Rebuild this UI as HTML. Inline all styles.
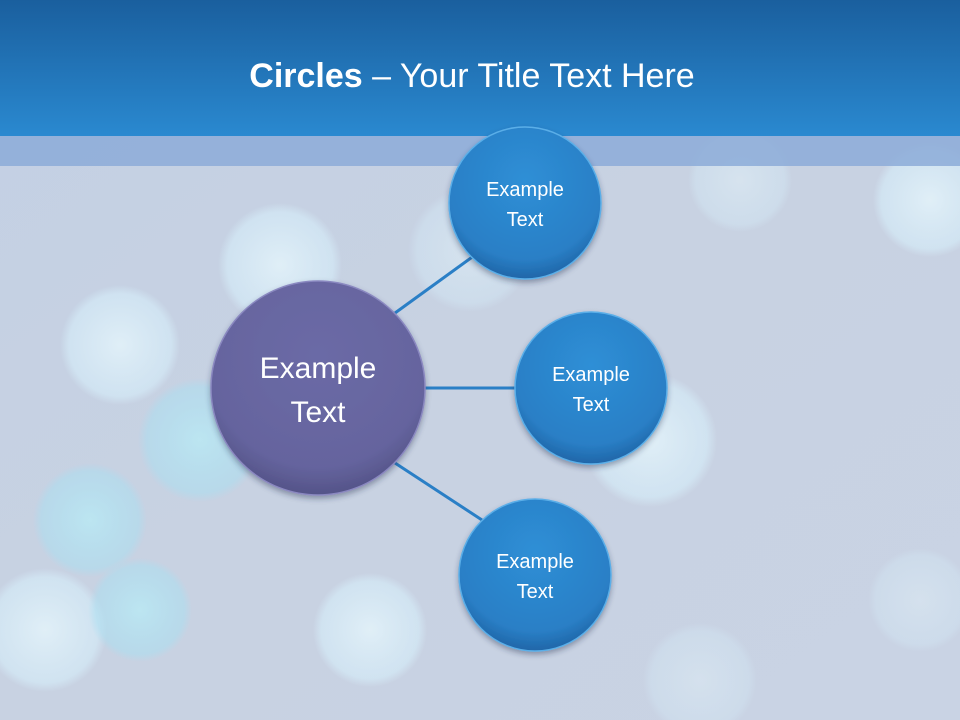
<!DOCTYPE html>
<html><head><meta charset="utf-8"><style>
html,body{margin:0;padding:0;width:960px;height:720px;overflow:hidden;}
svg{display:block}
</style></head><body>
<svg width="960" height="720" viewBox="0 0 960 720" xmlns="http://www.w3.org/2000/svg">
<defs>
<linearGradient id="hdr" x1="0" y1="0" x2="0" y2="1"><stop offset="0" stop-color="#1a5f9e"/><stop offset="1" stop-color="#2a89d0"/></linearGradient>
<linearGradient id="bg" x1="0" y1="0" x2="1" y2="1"><stop offset="0" stop-color="#c3d0e4"/><stop offset="0.5" stop-color="#c8d2e2"/><stop offset="1" stop-color="#c9d3e4"/></linearGradient>
<radialGradient id="bk" cx="0.5" cy="0.5" r="0.5"><stop offset="0" stop-color="#e6f6fc" stop-opacity="0.8"/><stop offset="0.85" stop-color="#d6eefa" stop-opacity="0.6"/><stop offset="1" stop-color="#d6eefa" stop-opacity="0"/></radialGradient>
<radialGradient id="bk2" cx="0.5" cy="0.5" r="0.5"><stop offset="0" stop-color="#b8ecf6" stop-opacity="0.75"/><stop offset="0.85" stop-color="#a8e0f2" stop-opacity="0.5"/><stop offset="1" stop-color="#a8e0f2" stop-opacity="0"/></radialGradient>
<radialGradient id="blue" cx="0.5" cy="0.35" r="0.65"><stop offset="0" stop-color="#2e8fd6"/><stop offset="0.8" stop-color="#2a7fc6"/><stop offset="1" stop-color="#1f66a8"/></radialGradient>
<radialGradient id="purple" cx="0.5" cy="0.35" r="0.65"><stop offset="0" stop-color="#6b6aa6"/><stop offset="0.8" stop-color="#65649e"/><stop offset="1" stop-color="#545388"/></radialGradient>
<filter id="sh" x="-20%" y="-20%" width="140%" height="150%"><feDropShadow dx="0" dy="3" stdDeviation="3" flood-color="#203050" flood-opacity="0.4"/></filter>
</defs>
<rect width="960" height="720" fill="url(#bg)"/>
<g>
<circle cx="280" cy="265" r="62" fill="url(#bk)"/>
<circle cx="120" cy="345" r="60" fill="url(#bk)"/>
<circle cx="200" cy="440" r="62" fill="url(#bk2)"/>
<circle cx="90" cy="520" r="57" fill="url(#bk2)"/>
<circle cx="45" cy="630" r="62" fill="url(#bk)"/>
<circle cx="140" cy="610" r="52" fill="url(#bk2)"/>
<circle cx="370" cy="630" r="57" fill="url(#bk)"/>
<circle cx="650" cy="440" r="67" fill="url(#bk)"/>
<circle cx="930" cy="200" r="57" fill="url(#bk)"/>
<circle cx="740" cy="180" r="52" fill="url(#bk)" opacity="0.6"/>
<circle cx="470" cy="250" r="62" fill="url(#bk)" opacity="0.6"/>
<circle cx="920" cy="600" r="52" fill="url(#bk)" opacity="0.5"/>
<circle cx="700" cy="680" r="57" fill="url(#bk)" opacity="0.5"/>
</g>
<rect x="0" y="136" width="960" height="30" fill="#8cacd8" opacity="0.85"/>
<rect x="0" y="0" width="960" height="136" fill="url(#hdr)"/>
<text x="472" y="87" text-anchor="middle" font-family="Liberation Sans, sans-serif" font-size="34" fill="#fff"><tspan font-weight="bold">Circles</tspan> – Your Title Text Here</text>
<g stroke="#2a7fc6" stroke-width="3">
<line x1="395" y1="313" x2="475" y2="255"/>
<line x1="424" y1="388" x2="516" y2="388"/>
<line x1="395" y1="463" x2="482" y2="520"/>
</g>
<g filter="url(#sh)">
<circle cx="318" cy="388" r="107" fill="url(#purple)" stroke="#8a88c0" stroke-width="1.5"/>
<circle cx="525" cy="203" r="76" fill="url(#blue)" stroke="#5aaee8" stroke-width="1.5"/>
<circle cx="591" cy="388" r="76" fill="url(#blue)" stroke="#5aaee8" stroke-width="1.5"/>
<circle cx="535" cy="575" r="76" fill="url(#blue)" stroke="#5aaee8" stroke-width="1.5"/>
</g>
<g font-family="Liberation Sans, sans-serif" fill="#fff" text-anchor="middle">
<text x="318" y="378" font-size="30">Example</text>
<text x="318" y="422" font-size="30">Text</text>
<text x="525" y="196" font-size="20">Example</text>
<text x="525" y="226" font-size="20">Text</text>
<text x="591" y="381" font-size="20">Example</text>
<text x="591" y="411" font-size="20">Text</text>
<text x="535" y="568" font-size="20">Example</text>
<text x="535" y="598" font-size="20">Text</text>
</g>
</svg>
</body></html>
